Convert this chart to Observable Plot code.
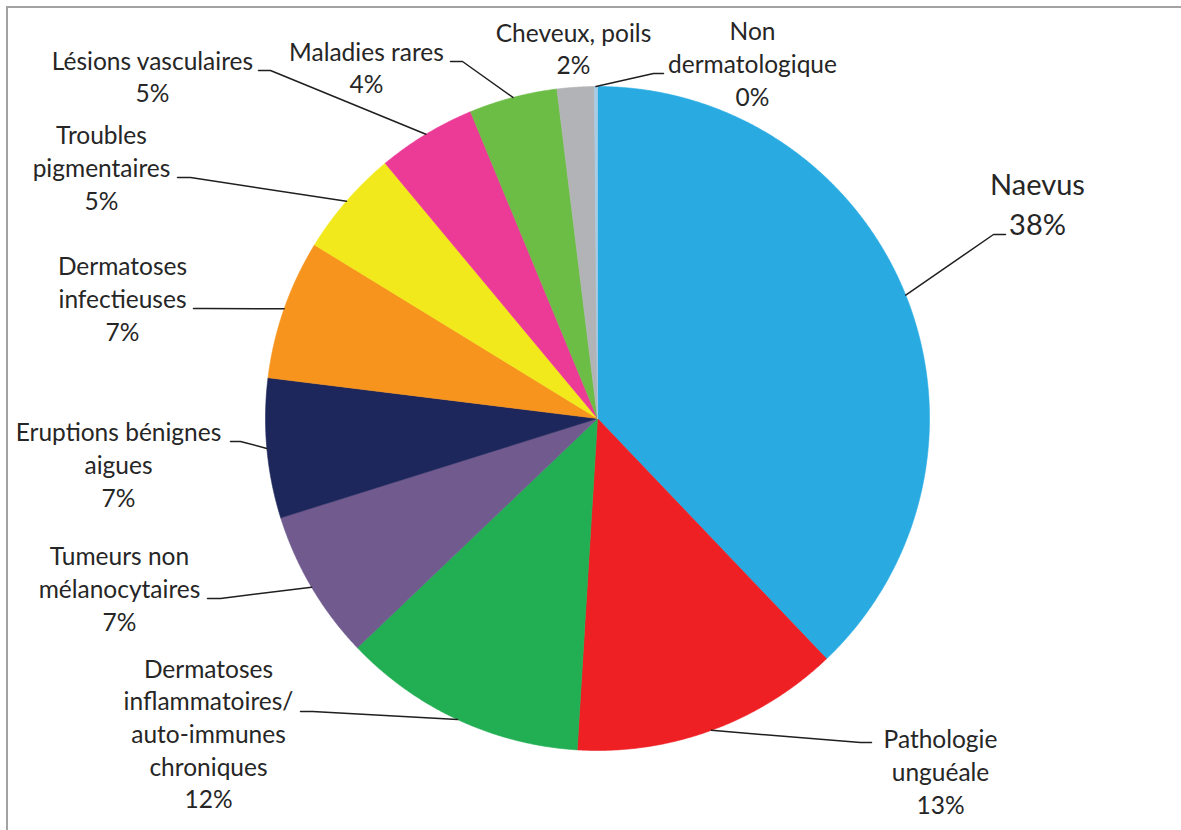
<!DOCTYPE html>
<html><head><meta charset="utf-8">
<script src="https://cdn.jsdelivr.net/npm/d3@7"></script>
<script src="https://cdn.jsdelivr.net/npm/@observablehq/plot@0.6"></script>
<style>
body{margin:0;background:#fff;}
#wrap{position:relative;width:1181px;height:830px;overflow:hidden;background:#fff;}
#frame{position:absolute;left:6px;top:6px;width:1200px;height:900px;border-left:2px solid #a3a3a3;border-top:2px solid #a3a3a3;pointer-events:none;}
#chart{position:absolute;left:0;top:0;}
</style></head><body>
<div id="wrap"><div id="chart"></div><div id="frame"></div></div>
<script>
// ---- data ----
const categories = ["Naevus","Pathologie unguéale","Dermatoses inflammatoires/ auto-immunes chroniques","Tumeurs non mélanocytaires","Eruptions bénignes aigues","Dermatoses infectieuses","Troubles pigmentaires","Lésions vasculaires","Maladies rares","Cheveux, poils","Non dermatologique"];
const labelLines = [["Naevus"],["Pathologie","unguéale"],["Dermatoses","inflammatoires/","auto-immunes","chroniques"],["Tumeurs non","mélanocytaires"],["Eruptions bénignes","aigues"],["Dermatoses","infectieuses"],["Troubles","pigmentaires"],["Lésions vasculaires"],["Maladies rares"],["Cheveux, poils"],["Non","dermatologique"]];
const values = [37.9, 13.1, 11.9, 7.3, 6.8, 6.8, 5.2, 4.8, 4.3, 1.8, 0.15];
const colors = ["#29abe2","#ee2024","#22ae53","#705a8e","#1e275b","#f7941e","#f1e91c","#ec3b97","#6cbd45","#b2b3b6","#a9cce4"];

// ---- layout (pixel units relative to pie centre, y up) ----
const W = 1181, H = 830, CX = 597, CY = 418, R = 332;
const textPos = [[440,216],[343,-352],[-389,-314],[-478,-169],[-479,-45],[-475,121],[-496,252],[-445,343],[-231,352],[-24,371],[155,356]];
const elbowPos = [[396,184],[263,-324],[-285,-293],[-377,-180],[-357,-23],[-392,110],[-407,241],[-327,348],[-135,357],null,[56,345]];
const endPos = [[408,184],[274,-324],[-297,-293],[-390,-180],[-367,-23],[-404,110],[-420,241],[-339,348],[-147,357],null,[66,345]];

// ---- build slices ----
const total = d3.sum(values);
const slicePts = [];
const leaderPts = [];
const labels = [];
let cum = 0;
categories.forEach((c, i) => {
  const a0 = cum / total * 2 * Math.PI;
  cum += values[i];
  const a1 = cum / total * 2 * Math.PI;
  slicePts.push({cat: c, x: 0, y: 0});
  const n = Math.max(2, Math.ceil((a1 - a0) / (Math.PI / 720)));
  for (let k = 0; k <= n; k++) {
    const a = a0 + (a1 - a0) * k / n;
    slicePts.push({cat: c, x: R * Math.sin(a), y: R * Math.cos(a)});
  }
  slicePts.push({cat: c, x: 0, y: 0});
  const am = (a0 + a1) / 2;
  if (elbowPos[i]) {
    leaderPts.push({cat: c, x: R * Math.sin(am), y: R * Math.cos(am)});
    leaderPts.push({cat: c, x: elbowPos[i][0], y: elbowPos[i][1]});
    leaderPts.push({cat: c, x: endPos[i][0], y: endPos[i][1]});
  }
  labels.push({cat: c, x: textPos[i][0], y: textPos[i][1],
    text: labelLines[i].join("\n") + "\n" + Math.round(values[i]) + "%", big: i === 0});
});

const plot = Plot.plot({
  width: W, height: H,
  marginTop: 0, marginBottom: 0, marginLeft: 0, marginRight: 0,
  x: {domain: [-CX, W - CX], axis: null},
  y: {domain: [CY - H, CY], axis: null},
  color: {domain: categories, range: colors},
  style: {fontFamily: "Lato, 'Open Sans', sans-serif", background: "transparent", overflow: "visible"},
  marks: [
    Plot.line(slicePts, {x: "x", y: "y", z: "cat", fill: "cat", stroke: "cat", strokeWidth: 0.6, curve: "linear"}),
    Plot.line(leaderPts, {x: "x", y: "y", z: "cat", stroke: "#1f1f1f", strokeWidth: 1.5, curve: "linear"}),
    Plot.text(labels.filter(d => !d.big), {x: "x", y: "y", text: "text", fontSize: 24.5, lineHeight: 1.33, fill: "#262626", textAnchor: "middle", lineAnchor: "middle"}),
    Plot.text(labels.filter(d => d.big), {x: "x", y: "y", text: "text", fontSize: 29, lineHeight: 1.38, fill: "#262626", textAnchor: "middle", lineAnchor: "middle"})
  ]
});
document.getElementById("chart").appendChild(plot);
</script>
</body></html>
